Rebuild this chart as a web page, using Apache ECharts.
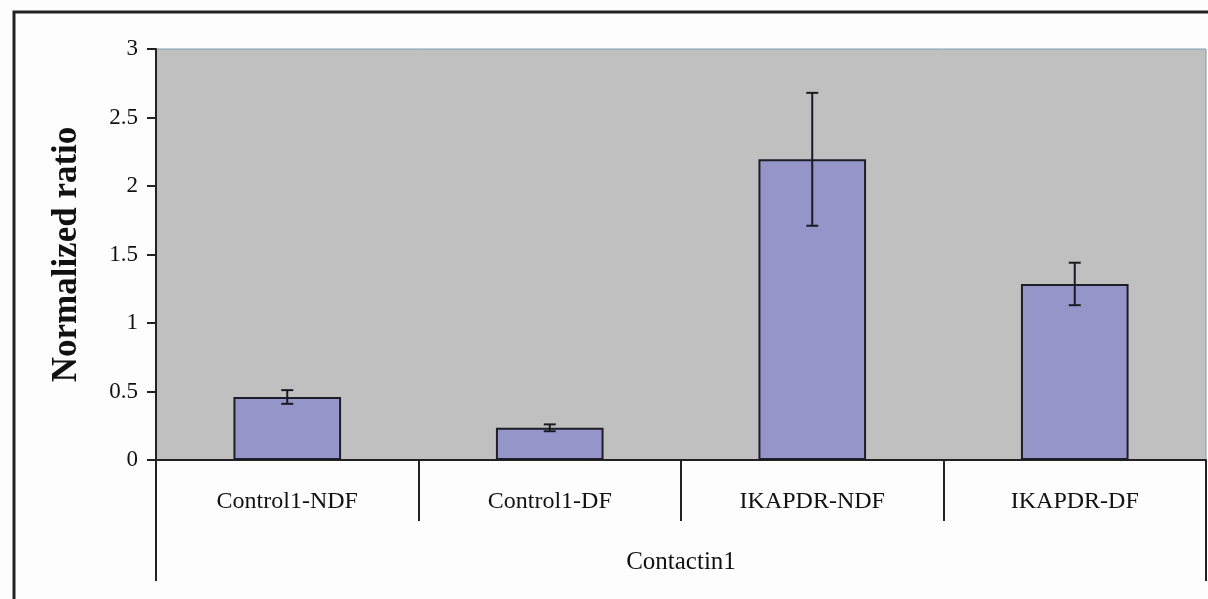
<!DOCTYPE html>
<html><head><meta charset="utf-8">
<script src="https://cdn.jsdelivr.net/npm/echarts@6/dist/echarts.min.js"></script>
<style>html,body{margin:0;padding:0;background:#fdfdfd}#c{width:1208px;height:599px}</style>
</head><body><div id="c"></div>
<script>
var categories = ['Control1-NDF', 'Control1-DF', 'IKAPDR-NDF', 'IKAPDR-DF'];
var groupLabel = ['Contactin1'];
var values = [0.46, 0.235, 2.195, 1.285];
var errors = [0.05, 0.025, 0.485, 0.155];
var yTicks = [0, 0.5, 1, 1.5, 2, 2.5, 3];

var FONT = '"Liberation Serif", "Times New Roman", serif';
var chart = echarts.init(document.getElementById('c'), null, {renderer: 'canvas'});
var errData = values.map(function (v, i) { return [i, v - errors[i], v + errors[i]]; });

chart.setOption({
  backgroundColor: '#fdfdfd',
  animation: false,
  graphic: [{
    type: 'rect', shape: {x: 14, y: 12, width: 1300, height: 700},
    style: {fill: 'none', stroke: '#222', lineWidth: 3}, silent: true, z: 100
  }],
  grid: {left: 156, right: 2, top: 49, bottom: 139, show: true,
    backgroundColor: '#c0c0c0', borderColor: '#7f9fae', borderWidth: 1},
  xAxis: [{
    type: 'category', data: categories, position: 'bottom',
    axisLine: {show: true, lineStyle: {color: '#222', width: 2}},
    axisTick: {show: true, length: 61, lineStyle: {color: '#222', width: 2}},
    axisLabel: {color: '#111', fontFamily: FONT, fontSize: 24, margin: 30}
  }, {
    type: 'category', data: groupLabel, position: 'bottom',
    axisLine: {show: false},
    axisTick: {show: true, length: 121, lineStyle: {color: '#222', width: 2}},
    axisLabel: {color: '#111', fontFamily: FONT, fontSize: 25, margin: 90}
  }],
  yAxis: {
    type: 'value', min: 0, max: 3, interval: 0.5,
    name: 'Normalized ratio', nameLocation: 'middle', nameGap: 72,
    nameTextStyle: {color: '#111', fontFamily: FONT, fontSize: 35, fontWeight: 'bold'},
    axisLine: {show: true, lineStyle: {color: '#222', width: 2}},
    axisTick: {show: true, length: 9, lineStyle: {color: '#222', width: 2}},
    splitLine: {show: false},
    axisLabel: {color: '#111', fontFamily: FONT, fontSize: 23, margin: 18,
      formatter: function (v) { return yTicks.indexOf(v) >= 0 ? String(v) : ''; }}
  },
  series: [{
    type: 'bar', data: values, barWidth: '41%', xAxisIndex: 0,
    itemStyle: {color: '#9595c9', borderColor: '#1e1e28', borderWidth: 2},
    z: 2
  }, {
    type: 'custom', xAxisIndex: 0, data: errData, z: 5,
    renderItem: function (params, api) {
      var x = api.value(0);
      var lo = api.coord([x, api.value(1)]);
      var hi = api.coord([x, api.value(2)]);
      var w = 6;
      var st = {stroke: '#1a1a22', lineWidth: 2};
      return {type: 'group', children: [
        {type: 'line', shape: {x1: hi[0], y1: hi[1], x2: lo[0], y2: lo[1]}, style: st},
        {type: 'line', shape: {x1: hi[0] - w, y1: hi[1], x2: hi[0] + w, y2: hi[1]}, style: st},
        {type: 'line', shape: {x1: lo[0] - w, y1: lo[1], x2: lo[0] + w, y2: lo[1]}, style: st}
      ]};
    }
  }]
});
</script></body></html>
